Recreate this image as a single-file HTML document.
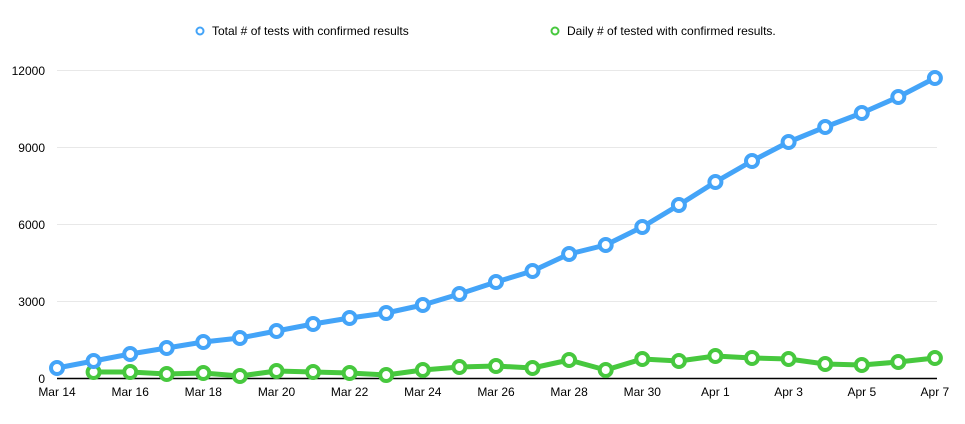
<!DOCTYPE html>
<html><head><style>body{margin:0;background:#fff;}svg{display:block;font-family:"Liberation Sans",sans-serif;}</style></head>
<body>
<svg width="965" height="424" viewBox="0 0 965 424">
<g stroke="#e8e8e8" stroke-width="1">
<line x1="57" y1="70.5" x2="937" y2="70.5"/><line x1="57" y1="147.5" x2="937" y2="147.5"/><line x1="57" y1="224.5" x2="937" y2="224.5"/><line x1="57" y1="301.5" x2="937" y2="301.5"/>
</g>
<line x1="57" y1="378.5" x2="937" y2="378.5" stroke="#000" stroke-width="1.5"/>
<g font-size="12" fill="#000" text-anchor="end">
<text x="45" y="75">12000</text><text x="45" y="152">9000</text><text x="45" y="229">6000</text><text x="45" y="306">3000</text><text x="45" y="383">0</text>
</g>
<g font-size="12" fill="#000" text-anchor="middle">
<text x="57" y="396">Mar 14</text><text x="130.2" y="396">Mar 16</text><text x="203.3" y="396">Mar 18</text><text x="276.5" y="396">Mar 20</text><text x="349.6" y="396">Mar 22</text><text x="422.8" y="396">Mar 24</text><text x="496" y="396">Mar 26</text><text x="569.1" y="396">Mar 28</text><text x="642.3" y="396">Mar 30</text><text x="715.4" y="396">Apr 1</text><text x="788.6" y="396">Apr 3</text><text x="861.8" y="396">Apr 5</text><text x="934.9" y="396">Apr 7</text>
</g>
<g font-size="12" fill="#000">
<circle cx="200" cy="31" r="3.5" fill="#fff" stroke="#44a4f8" stroke-width="2"/><text x="212" y="35">Total # of tests with confirmed results</text>
<circle cx="555" cy="31" r="3.5" fill="#fff" stroke="#47c83e" stroke-width="2"/><text x="567" y="35">Daily # of tested with confirmed results.</text>
</g>
<g fill="none" stroke-width="5" stroke-linejoin="round">
<polyline stroke="#47c83e" points="93.6,372 130.2,372 166.7,374 203.3,373 239.9,376 276.5,371 313.1,372 349.6,373 386.2,375 422.8,370 459.4,367 496,366 532.5,368 569.1,360 605.7,370 642.3,359 678.9,361 715.4,356 752,358 788.6,359 825.2,364 861.8,365 898.3,362 934.9,358"/>
<polyline stroke="#44a4f8" points="57,368 93.6,361 130.2,354 166.7,348 203.3,342 239.9,338 276.5,331 313.1,324 349.6,318 386.2,313 422.8,305 459.4,294 496,282 532.5,271 569.1,254 605.7,245 642.3,227 678.9,205 715.4,182 752,161 788.6,142 825.2,127 861.8,113 898.3,97 934.9,78"/>
</g>
<g fill="#fff" stroke-width="4">
<g stroke="#47c83e">
<circle cx="93.6" cy="372" r="6"/><circle cx="130.2" cy="372" r="6"/><circle cx="166.7" cy="374" r="6"/><circle cx="203.3" cy="373" r="6"/><circle cx="239.9" cy="376" r="6"/><circle cx="276.5" cy="371" r="6"/><circle cx="313.1" cy="372" r="6"/><circle cx="349.6" cy="373" r="6"/><circle cx="386.2" cy="375" r="6"/><circle cx="422.8" cy="370" r="6"/><circle cx="459.4" cy="367" r="6"/><circle cx="496" cy="366" r="6"/><circle cx="532.5" cy="368" r="6"/><circle cx="569.1" cy="360" r="6"/><circle cx="605.7" cy="370" r="6"/><circle cx="642.3" cy="359" r="6"/><circle cx="678.9" cy="361" r="6"/><circle cx="715.4" cy="356" r="6"/><circle cx="752" cy="358" r="6"/><circle cx="788.6" cy="359" r="6"/><circle cx="825.2" cy="364" r="6"/><circle cx="861.8" cy="365" r="6"/><circle cx="898.3" cy="362" r="6"/><circle cx="934.9" cy="358" r="6"/>
</g>
<g stroke="#44a4f8">
<circle cx="57" cy="368" r="6"/><circle cx="93.6" cy="361" r="6"/><circle cx="130.2" cy="354" r="6"/><circle cx="166.7" cy="348" r="6"/><circle cx="203.3" cy="342" r="6"/><circle cx="239.9" cy="338" r="6"/><circle cx="276.5" cy="331" r="6"/><circle cx="313.1" cy="324" r="6"/><circle cx="349.6" cy="318" r="6"/><circle cx="386.2" cy="313" r="6"/><circle cx="422.8" cy="305" r="6"/><circle cx="459.4" cy="294" r="6"/><circle cx="496" cy="282" r="6"/><circle cx="532.5" cy="271" r="6"/><circle cx="569.1" cy="254" r="6"/><circle cx="605.7" cy="245" r="6"/><circle cx="642.3" cy="227" r="6"/><circle cx="678.9" cy="205" r="6"/><circle cx="715.4" cy="182" r="6"/><circle cx="752" cy="161" r="6"/><circle cx="788.6" cy="142" r="6"/><circle cx="825.2" cy="127" r="6"/><circle cx="861.8" cy="113" r="6"/><circle cx="898.3" cy="97" r="6"/><circle cx="934.9" cy="78" r="6"/>
</g>
</g>
</svg>
</body></html>
